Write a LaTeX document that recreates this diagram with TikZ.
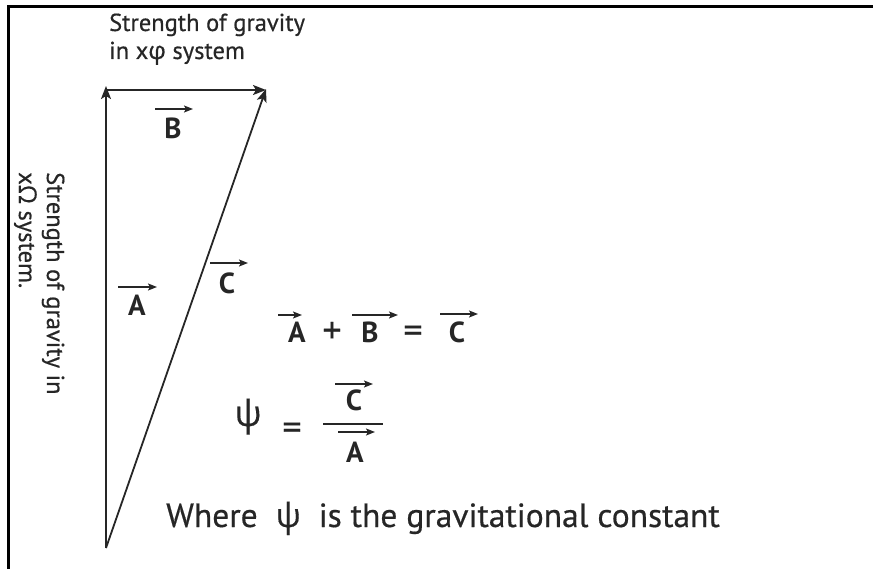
\documentclass[tikz,border=0pt]{standalone}
\usepackage{fontspec}
\setmainfont{PT Sans}[FakeBold=0.5]
\newfontfamily\greekfont{Open Sans}[FakeBold=0.3]
\newfontfamily\boldlbl{PT Sans Bold}
\usetikzlibrary{arrows.meta}
\definecolor{ink}{HTML}{262626}
\tikzset{
  vec/.style={line width=1.8pt, draw=ink, -{Stealth[length=13pt,width=10pt,inset=3pt]}},
  varr/.style={line width=1.6pt, draw=ink, -{Stealth[length=9pt,width=7pt,inset=2pt]}},
  lbl/.style={text=ink, inner sep=0pt, font=\fontsize{29}{32}\boldlbl},
  captxt/.style={text=ink, inner sep=0pt, font=\fontsize{24.5}{28}\selectfont},
  eqs/.style={text=ink, inner sep=0pt, font=\fontsize{38}{40}\selectfont},
}
\begin{document}
\begin{tikzpicture}[x=1pt,y=-1pt]
\useasboundingbox (0,0) rectangle (873,569);
% frame
\draw[line width=3pt, black] (8,569) -- (8,7) -- (873,7);
% triangle
\coordinate (O) at (106,548);
\coordinate (Atip) at (106,86);
\coordinate (Bs) at (106,90);
\coordinate (Btip) at (266,90);
\coordinate (Ctip) at (266,89);
\draw[vec] (O) -- (Atip);
\draw[vec] (Bs) -- (Btip);
\draw[vec] (O) -- (Ctip);
% captions
\node[captxt, anchor=base west] (t1) at (109,31) {Strength of gravity};
\node[captxt, anchor=base west] (t2) at (109,59) {in x{\greekfont φ} system};
\node[captxt, anchor=base west, rotate=-90] (s1) at (47,172) {Strength of gravity in};
\node[captxt, anchor=base west, rotate=-90] (s2) at (19,172) {x{\greekfont Ω} system.};
% vector labels
\node[lbl, anchor=base] (lB) at (173,139) {B};
\draw[varr] (155,109) -- (193,109);
\node[lbl, anchor=base] (lA) at (137,316) {A};
\draw[varr] (118,287) -- (157,287);
\node[lbl, anchor=base] (lC) at (227,294) {C};
\draw[varr] (210,263) -- (248,263);
% equation 1
\node[lbl, anchor=base] (e1A) at (297,343) {A};
\draw[varr] (278,315) -- (302,315);
\node[eqs, anchor=base] (plus) at (332,343) {+};
\node[lbl, anchor=base] (e1B) at (370,343) {B};
\draw[varr] (352,315) -- (398,315);
\node[eqs, anchor=base] (eq1) at (413,343) {=};
\node[lbl, anchor=base] (e1C) at (457,343) {C};
\draw[varr] (440,314) -- (478,314);
% equation 2
\node[text=ink, inner sep=0pt, anchor=base, font=\fontsize{36}{38}\greekfont] (psi) at (248,426) {ψ};
\node[eqs, anchor=base] (eq2) at (292,440) {=};
\draw[line width=1.8pt, ink] (323,424) -- (383,424);
\node[lbl, anchor=base] (e2C) at (354,410) {C};
\draw[varr] (335,384) -- (373,384);
\node[lbl, anchor=base] (e2A) at (355,462) {A};
\draw[varr] (338,432) -- (375,432);
% where line
\node[text=ink, inner sep=0pt, anchor=base west, font=\fontsize{33.5}{36}\selectfont] (where) at (166,527)
  {Where \ {\greekfont ψ} \ is the gravitational constant};
\end{tikzpicture}
\end{document}
